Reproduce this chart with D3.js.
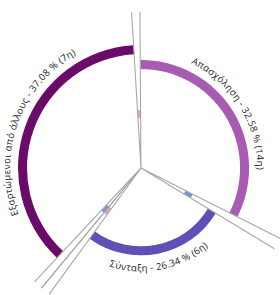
<!DOCTYPE html>
<html>
<head>
<meta charset="utf-8">
<script src="https://cdn.jsdelivr.net/npm/d3@7"></script>
<style>
body { margin: 0; background: #fff; }
</style>
</head>
<body>
<div id="main"></div>
<script>
// data
var labels = ["Απασχόληση", "", "Σύνταξη", "", "", "Εξαρτώμενοι από άλλους", ""];
var values = [32.58, 1.20, 26.34, 1.00, 0.95, 37.08, 0.85];
var ranks = ["14η", "", "6η", "", "", "7η", ""];
var major = [true, false, true, false, false, true, false];
var colors = ["#a85bb3", "#6f97d6", "#5d50b6", "#e89bc6", "#6f97d6", "#6a0b6a", "#e89bc6"];

var w = 280,
	h = 295,
	cx = 141,
	cy = 168;

var data = values.map(function(v, i) {
	return { label: labels[i], value: v, rank: ranks[i], major: major[i], color: colors[i] };
});

var start = -0.4 * Math.PI / 180;

var pie = d3.pie()
	.sort(null)
	.value(function(d) { return d.value; })
	.startAngle(start)
	.endAngle(start + 2 * Math.PI);

// outer radius of a ring grows with its value
var r = d3.scaleLinear()
	.domain([0, d3.max(values)])
	.range([0, 123]);

var ring = 9,
	lineLen = 156;

var svg = d3.select("#main")
	.append("svg")
	.attr("width", w)
	.attr("height", h);

var g = svg.append("g")
	.attr("transform", "translate(" + cx + "," + cy + ")");

var arcs = pie(data);

// big rings
g.selectAll("path.ring")
	.data(arcs.filter(function(a) { return a.data.major; }))
	.enter()
	.append("path")
	.attr("class", "ring")
	.attr("fill", function(a) { return a.data.color; })
	.attr("d", function(a) {
		return d3.arc()
			.innerRadius(r(a.data.value) - ring)
			.outerRadius(r(a.data.value))(a);
	});

// small slices: thin wedge lines with a little band
var small = arcs.filter(function(a) { return !a.data.major; });

g.selectAll("path.band")
	.data(small)
	.enter()
	.append("path")
	.attr("class", "band")
	.attr("fill", function(a) { return a.data.color; })
	.attr("d", d3.arc().innerRadius(50).outerRadius(58));

g.selectAll("path.wedge")
	.data(small)
	.enter()
	.append("path")
	.attr("class", "wedge")
	.attr("fill", "none")
	.attr("stroke", "#a8a8a8")
	.attr("stroke-width", 1.1)
	.attr("d", function(a) {
		var p0 = d3.pointRadial(a.startAngle, lineLen),
			p1 = d3.pointRadial(a.endAngle, lineLen);
		return "M" + p0 + "L0,0L" + p1;
	});

// curved labels
var defs = svg.append("defs");
var big = arcs.filter(function(a) { return a.data.major; });

big.forEach(function(a, i) {
	var mid = (a.startAngle + a.endAngle) / 2;
	var flip = mid > Math.PI / 2 && mid < Math.PI * 3 / 2;
	var rad = r(a.data.value) + (flip ? 16 : 8);
	var p = d3.path();
	if (flip) {
		p.moveTo(rad * Math.sin(a.endAngle), -rad * Math.cos(a.endAngle));
		p.arc(0, 0, rad, a.endAngle - Math.PI / 2, a.startAngle - Math.PI / 2, true);
	} else {
		p.moveTo(rad * Math.sin(a.startAngle), -rad * Math.cos(a.startAngle));
		p.arc(0, 0, rad, a.startAngle - Math.PI / 2, a.endAngle - Math.PI / 2, false);
	}
	defs.append("path")
		.attr("id", "lab" + i)
		.attr("d", p.toString());

	g.append("text")
		.attr("font-family", "Open Sans, sans-serif")
		.attr("font-size", 9.5)
		.attr("letter-spacing", 0.3)
		.attr("fill", "#222")
		.append("textPath")
		.attr("href", "#lab" + i)
		.attr("startOffset", "50%")
		.attr("text-anchor", "middle")
		.text(a.data.label + " - " + a.data.value.toFixed(2) + " % (" + a.data.rank + ")");
});
</script>
</body>
</html>
